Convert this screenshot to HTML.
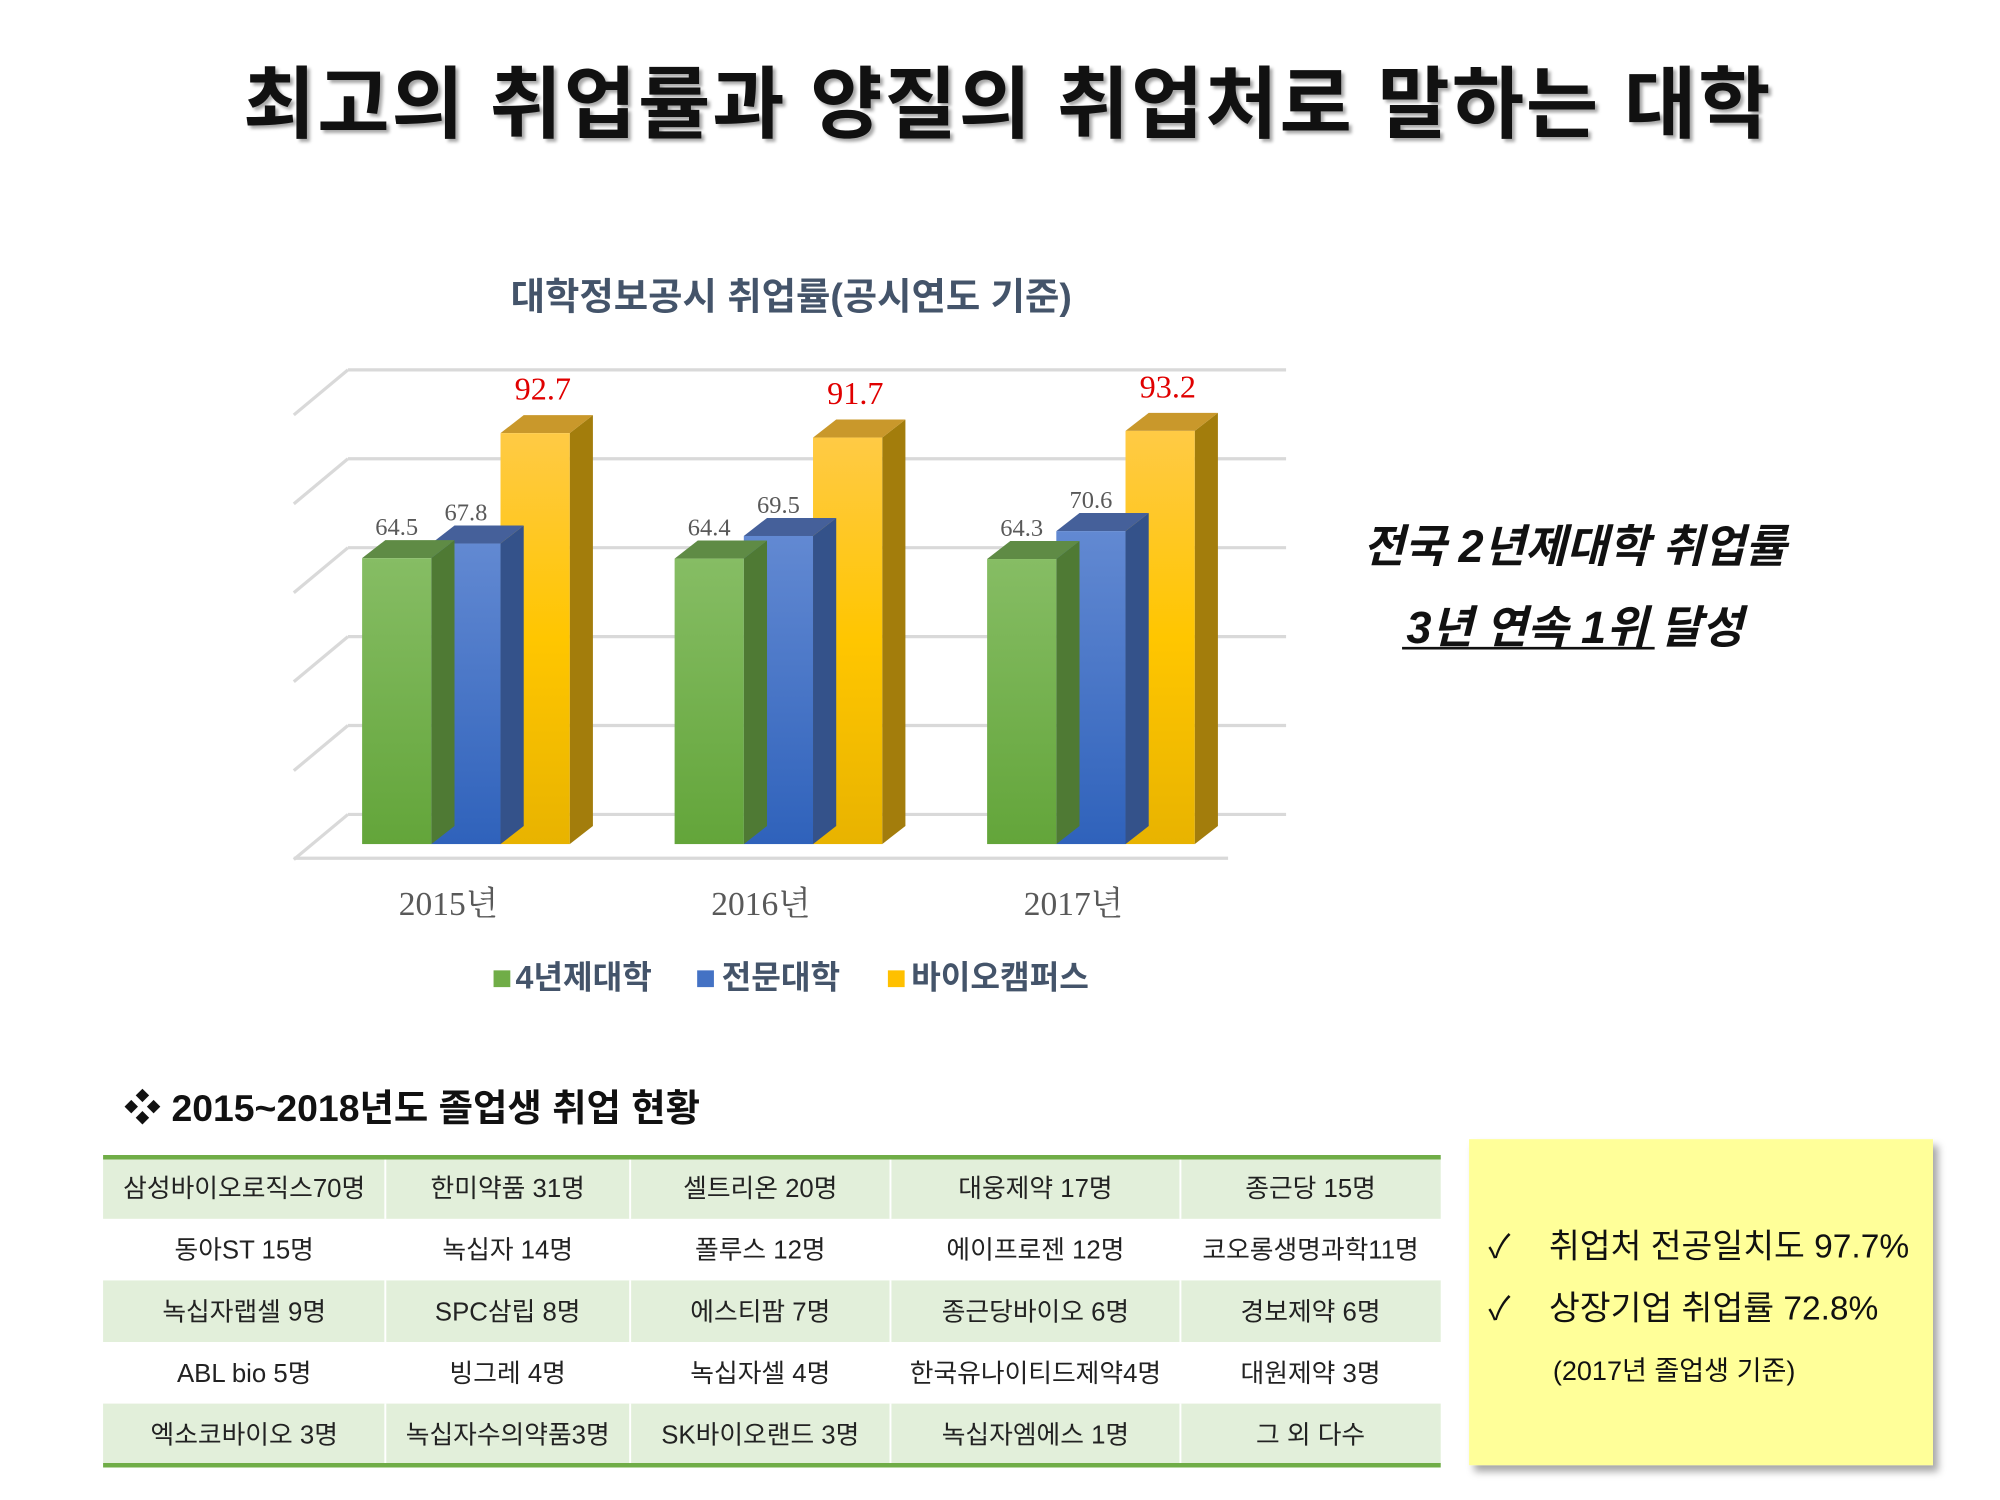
<!DOCTYPE html>
<html><head><meta charset="utf-8"><style>
html,body{margin:0;padding:0;background:#fff;}
svg{display:block;}
.k{font-family:"Liberation Sans","Noto Sans CJK KR",sans-serif;}
.s{font-family:"Liberation Serif","Noto Serif CJK SC","Noto Sans CJK KR",serif;}
</style></head><body>
<svg id="root" width="2000" height="1500" viewBox="0 0 1552 1164" xmlns="http://www.w3.org/2000/svg">
<defs>
<linearGradient id="gG" x1="0" y1="0" x2="0" y2="1"><stop offset="0" stop-color="#86bd64"/><stop offset="1" stop-color="#63a53a"/></linearGradient>
<linearGradient id="gB" x1="0" y1="0" x2="0" y2="1"><stop offset="0" stop-color="#6289d2"/><stop offset="1" stop-color="#2f62bb"/></linearGradient>
<linearGradient id="gY" x1="0" y1="0" x2="0" y2="1"><stop offset="0" stop-color="#ffca45"/><stop offset="0.5" stop-color="#ffc600"/><stop offset="1" stop-color="#e8b300"/></linearGradient>
<filter id="sh" x="-5%" y="-5%" width="115%" height="120%"><feDropShadow dx="4" dy="5" stdDeviation="3" flood-color="#000" flood-opacity="0.35"/></filter>
</defs>
<text class="k" x="782" y="102" text-anchor="middle" font-size="61" font-weight="bold" fill="#111" letter-spacing="1.5" style="text-shadow:3px 3px 3px rgba(0,0,0,0.35)">최고의 취업률과 양질의 취업처로 말하는 대학</text>
<text class="k" x="614" y="240" text-anchor="middle" font-size="29" font-weight="bold" fill="#44546a">대학정보공시 취업률(공시연도 기준)</text>
<g id="grid"></g>
<g id="bars"></g>
<g id="labels"></g>
<g class="k" font-size="25" font-weight="bold" fill="#44546a">
<rect x="383" y="753" width="13" height="13" fill="#70ad47"/>
<text x="400" y="767">4년제대학</text>
<rect x="541" y="753" width="13" height="13" fill="#4472c4"/>
<text x="560" y="767">전문대학</text>
<rect x="689" y="753" width="13" height="13" fill="#ffc000"/>
<text x="707" y="767">바이오캠퍼스</text>
</g>
<text class="k" x="1222" y="436" text-anchor="middle" font-size="35" font-weight="bold" font-style="italic" fill="#111">전국 2년제대학 취업률</text>
<text class="k" x="1222" y="499" text-anchor="middle" font-size="35" font-weight="bold" font-style="italic" fill="#111">3년 연속 1위 달성</text>
<line x1="1088" y1="503" x2="1284" y2="503" stroke="#111" stroke-width="2"/>
<text class="k" x="96" y="870" font-size="29" font-weight="bold" fill="#111">❖  2015~2018년도 졸업생 취업 현황</text>
<g id="table"></g>
<rect x="1140" y="884" width="360" height="253" fill="#ffff99" filter="url(#sh)"/>
<g class="k" fill="#111">
<text x="1155" y="976" font-size="25">✓</text>
<text x="1202" y="976" font-size="26">취업처 전공일치도 97.7%</text>
<text x="1155" y="1024" font-size="25">✓</text>
<text x="1202" y="1024" font-size="26">상장기업 취업률 72.8%</text>
<text x="1205" y="1071" font-size="21">(2017년 졸업생 기준)</text>
</g>
</svg>
<script>
const categories = ["2015년", "2016년", "2017년"];
const seriesNames = ["4년제대학", "전문대학", "바이오캠퍼스"];
const series4year = [64.5, 64.4, 64.3];
const seriesCollege = [67.8, 69.5, 70.6];
const seriesBio = [92.7, 91.7, 93.2];
const tickValues = [0, 20, 40, 60, 80, 100];

const NS = "http://www.w3.org/2000/svg";
function mk(tag, attrs, parent) { const e = document.createElementNS(NS, tag); for (const k in attrs) e.setAttribute(k, attrs[k]); parent.appendChild(e); return e; }
const y0 = 655, pxPerUnit = 3.44;
function yScale(v) { return y0 - v * pxPerUnit; }
function groupX(i) { return 281 + i * 242.5; }
const barW = 53.7, dx = 18, dy = 14;

const grid = document.getElementById('grid');
tickValues.forEach(function (t) {
  const gy = 632 - t * 3.45;
  const l = mk('line', {x1: 270, y1: gy, x2: 998, y2: gy, stroke: '#d9d9d9', 'stroke-width': 2.5}, grid);
  
  
  const d = mk('line', {x1: 228, y1: gy + 35, x2: 270, y2: gy, stroke: '#d9d9d9', 'stroke-width': 2.5}, grid);
  
  
});
const floor = mk('line', {x1: 228, y1: 666, x2: 953, y2: 666, stroke: '#d9d9d9', 'stroke-width': 2.5}, grid);



const bars = document.getElementById('bars');
const labels = document.getElementById('labels');
const allSeries = [series4year, seriesCollege, seriesBio];
const fills = ['url(#gG)', 'url(#gB)', 'url(#gY)'];
const tops = ['#5f8b45', '#45609a', '#c9982b'];
const sides = ['#4f7a34', '#34528a', '#a37d0c'];
const keys = ['4year', 'college', 'biocampus'];
categories.forEach(function (c, i) {
  for (let s = 2; s >= 0; s--) {
    const v = allSeries[s][i];
    const x = groupX(i) + s * barW, yt = yScale(v);
    const side = mk('polygon', {points: (x + barW) + ',' + yt + ' ' + (x + barW + dx) + ',' + (yt - dy) + ' ' + (x + barW + dx) + ',' + (y0 - dy) + ' ' + (x + barW) + ',' + y0, fill: sides[s]}, bars);
    
    
    const top = mk('polygon', {points: x + ',' + yt + ' ' + (x + dx) + ',' + (yt - dy) + ' ' + (x + barW + dx) + ',' + (yt - dy) + ' ' + (x + barW) + ',' + yt, fill: tops[s]}, bars);
    
    
    const r = mk('rect', {x: x, y: yt, width: barW, height: y0 - yt, fill: fills[s]}, bars);
    
    
    const lx = x + barW / 2 + (s === 2 ? 6 : 0);
    const t = mk('text', {x: lx, y: yt - (s === 2 ? 26 : 18), 'text-anchor': 'middle', class: 's', 'font-size': s === 2 ? 25 : 19, fill: s === 2 ? '#e00000' : '#595959', 'font-weight': 'normal'}, labels);
    t.textContent = v.toFixed(1);
    
    
  }
  const cl = mk('text', {x: groupX(i) + 67, y: 710, 'text-anchor': 'middle', class: 's', 'font-size': 26, fill: '#595959'}, labels);
  cl.textContent = c;
  
  
});

const rows = [
  ["삼성바이오로직스70명", "한미약품 31명", "셀트리온 20명", "대웅제약 17명", "종근당 15명"],
  ["동아ST 15명", "녹십자 14명", "폴루스 12명", "에이프로젠 12명", "코오롱생명과학11명"],
  ["녹십자랩셀 9명", "SPC삼립 8명", "에스티팜 7명", "종근당바이오 6명", "경보제약 6명"],
  ["ABL bio 5명", "빙그레 4명", "녹십자셀 4명", "한국유나이티드제약4명", "대원제약 3명"],
  ["엑소코바이오 3명", "녹십자수의약품3명", "SK바이오랜드 3명", "녹십자엠에스 1명", "그 외 다수"]
];
const colX = [80, 299, 489, 691, 916, 1118];
const tbl = document.getElementById('table');
rows.forEach(function (row, r) {
  const ry = 898 + r * 47.8;
  if (r % 2 === 0) {
    const bg = mk('rect', {x: 80, y: ry, width: 1038, height: 47.8, fill: '#e2efda'}, tbl);
    
    
  }
  row.forEach(function (cell, c) {
    if (c > 0) {
      const ln = mk('line', {x1: colX[c], y1: ry, x2: colX[c], y2: ry + 47.8, stroke: '#ffffff', 'stroke-width': 1.5}, tbl);
      
      
    }
    const t = mk('text', {x: (colX[c] + colX[c + 1]) / 2, y: ry + 31, 'text-anchor': 'middle', class: 'k', 'font-size': 20, fill: '#222'}, tbl);
    t.textContent = cell;
    
    
  });
});
[898, 1137].forEach(function (yy) {
  const b = mk('line', {x1: 80, y1: yy, x2: 1118, y2: yy, stroke: '#70ad47', 'stroke-width': 3.5}, tbl);
  
  
});
</script>
</body></html>
